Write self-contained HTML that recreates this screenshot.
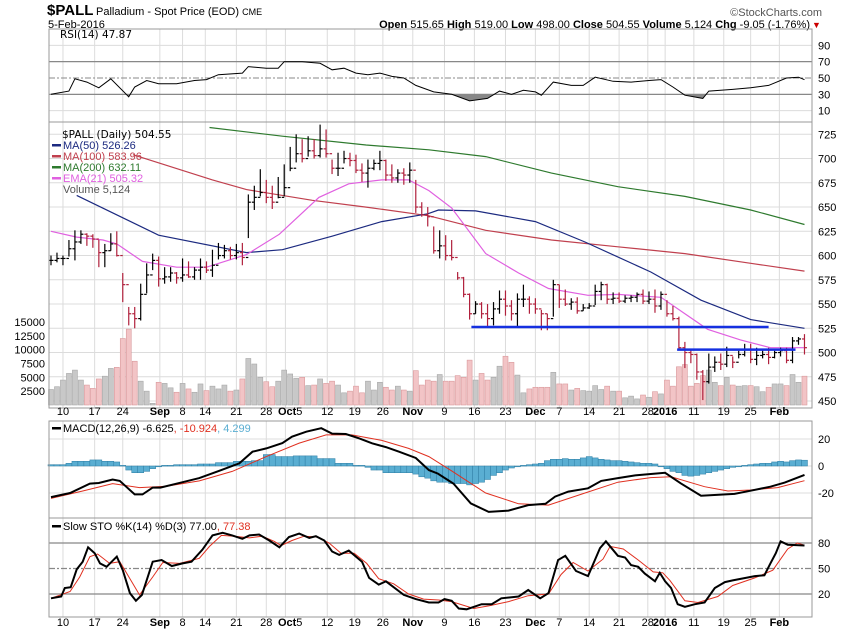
<!DOCTYPE html>
<html><head><meta charset="utf-8"><style>
body{margin:0;background:#fff;}
svg{display:block;font-family:"Liberation Sans",sans-serif;}
</style></head><body>
<svg id="chart" width="850" height="633" viewBox="0 0 850 633" xmlns="http://www.w3.org/2000/svg">
<rect x="0" y="0" width="850" height="633" fill="#fff"/>
<text x="47" y="15" style="font-size:15px;font-weight:bold">$PALL</text>
<text x="96" y="15" style="font-size:11px">Palladium - Spot Price (EOD) <tspan style="font-size:9px">CME</tspan></text>
<text x="48" y="28" style="font-size:11px">5-Feb-2016</text>
<text x="822" y="16" text-anchor="end" style="font-size:11px;fill:#555">©StockCharts.com</text>
<text x="810" y="28" text-anchor="end" style="font-size:11px"><tspan font-weight="bold">Open</tspan> 515.65 <tspan font-weight="bold">High</tspan> 519.00 <tspan font-weight="bold">Low</tspan> 498.00 <tspan font-weight="bold">Close</tspan> 504.55 <tspan font-weight="bold">Volume</tspan> 5,124 <tspan font-weight="bold">Chg</tspan> -9.05 (-1.76%)</text>
<text x="812" y="28" style="font-size:9px;fill:#c00">▼</text>
<g id="grid"></g>
<g id="marks"></g>
<g id="labels"></g>
</svg>
<script>
const closes = [595,597,597,607,614,622,620,617,603,605,612,600,570,540,535,560,580,595,576,578,582,577,580,578,585,588,585,590,600,605,600,603,598,655,660,665,660,655,660,670,690,705,700,708,703,710,705,690,690,700,698,688,685,690,695,698,683,680,685,683,688,650,
642,640,605,610,600,598,577,560,540,550,540,535,545,555,548,540,555,555,550,545,540,535,570,555,550,552,543,546,548,563,570,555,556,553,556,557,560,553,555,548,560,540,535,505,500,498,480,470,485,490,488,497,490,498,503,493,497,498,495,500,502,492,512,514,505];
const highs = [600,603,600,616,626,626,623,622,616,612,623,625,582,547,547,571,592,602,599,588,588,583,597,594,588,597,594,606,613,611,609,612,613,663,672,689,678,672,681,694,712,725,720,723,720,735,730,699,706,708,706,704,695,699,699,708,699,694,689,690,696,678,
655,650,630,626,621,616,583,578,561,553,552,550,552,564,564,554,561,570,558,556,544,540,575,570,565,556,557,550,551,570,573,571,562,562,559,559,562,565,563,565,563,554,548,537,511,504,499,482,499,496,499,506,496,502,509,509,505,502,505,502,505,505,516,516,519];
const lows = [590,593,590,599,595,612,610,608,588,588,605,599,552,528,525,533,561,585,568,571,573,571,573,577,575,575,582,578,596,597,596,596,590,618,647,661,654,648,659,661,687,696,696,702,700,701,701,684,682,695,692,685,676,670,688,688,677,675,675,673,675,644,
640,630,602,597,595,595,575,557,534,540,535,527,528,540,538,533,527,547,540,540,523,523,537,546,548,544,540,543,545,549,554,550,550,551,551,552,552,550,550,541,544,537,533,503,484,489,472,451,468,480,482,485,484,494,496,489,487,494,488,494,496,489,489,508,498];
const volumes = [2.8,3.3,4.5,5.7,6.3,4.5,3.6,3.0,4.7,5.2,6.6,6.8,12,13.7,7.9,4.3,2.5,0.3,4.1,3.9,3.1,2.3,3.9,2.9,2.3,3.8,2.6,3.4,2.9,3.6,2.5,2.7,4.7,8.4,7.4,5,4.2,3.3,4.3,6.3,5.6,4.8,5,3.5,3.6,4.7,3.9,4.3,3.6,2.2,2.5,3.4,2.2,4.3,2.7,4.1,3.2,2.7,3.4,2.7,2.5,6.2,
3.6,4.5,4.3,5.5,4.3,4.3,5.3,5.0,8.1,4.5,5.7,4.5,5.0,7.0,8.8,7.7,5.4,2.2,2.9,3.2,3.2,3.2,5.9,3.8,3.8,2.7,3.0,2.6,2.5,3.5,2.8,3.4,2.5,2.5,1.3,1.6,1.1,1.8,1.4,2.4,2.0,4.5,3.4,6.9,7.3,3.4,3.9,5.3,6.3,4.1,3.5,5.0,3.6,3.4,3.5,3.5,3.3,2.4,3.2,3.8,3.8,3.5,5.5,4.1,5.2];
const ma50 = [[4.3,662],[18,621],[32.7,603],[38.7,606],[47,620],[55.3,635],[63,643],[64.8,647],[71,646],[81,635],[89.3,614],[100.3,583],[108.7,554],[117,534],[126,525]];
const ma100 = [[13.7,704],[27,678],[32.7,668],[43.7,657],[52.7,650],[63.2,641],[72.7,626],[83.7,616],[94.8,609],[106,602],[117,592],[126,584]];
const ma200 = [[26.5,732],[38.7,723],[52.7,714],[63.2,709],[72.7,702],[83.7,685],[94.8,671],[106,661],[117,647],[126,632]];
const ema21 = [[0,625],[4.3,619],[8.7,616],[11,612],[15.3,594],[21,588],[26,588],[32.7,601],[38.2,622],[44.8,660],[49.8,674],[55.3,678],[59.8,678],[63.2,667],[67,649],[72.7,602],[78.2,582],[83.2,566],[89.8,559],[94.8,560],[102,557],[106,540],[109.8,524],[115.3,513],[120.3,505],[126,505]];
const supportLines = [[70.3,120,526.4],[104.7,124.5,503]];
const rsi = [[0,30],[3,34],[4,49],[6,45],[8,38],[10,49],[13,27],[14,39],[16,47],[18,43],[21,43],[24,47],[26,48],[28,54],[32,56],[33,64],[36,62],[38,62],[39,70],[42,70],[45,68],[47,60],[49,62],[51,56],[53,54],[55,56],[57,52],[59,50],[61,41],[64,33],[67,30],[70,22],[73,25],[75,34],[77,30],[79,35],[81,33],[82,29],[84,45],[87,41],[89,41],[91,51],[94,46],[97,45],[100,47],[102,48],[104,39],[106,29],[109,25],[110,34],[114,36],[117,38],[120,41],[123,50],[125,51],[126,47.87]];
const macd = [[0,-23],[3.2,-20],[6.5,-13],[8,-12.6],[10.3,-10],[11.5,-11],[14,-21],[15.3,-21],[17,-16],[18.3,-16],[22,-12],[24.8,-9],[28.2,-3.5],[31.5,2],[33.7,10.6],[36,13],[38.7,17],[40.3,21.7],[42.7,25.4],[45.2,28],[47,24],[49.3,23.7],[51.5,20.5],[53.7,16.8],[56,14],[58.2,10.6],[61,5.9],[63.2,-3],[64.7,-5.6],[67.3,-13],[70.2,-27.7],[73.2,-34],[76.5,-33],[79.8,-29],[82.7,-28],[84.3,-22.7],[86.5,-19],[89.8,-16.5],[92,-11],[94.8,-9],[97.7,-7],[100.3,-5.9],[102.7,-5],[105.3,-12.8],[108.7,-22],[114.3,-20.7],[117,-18.3],[120.3,-15.3],[122.7,-12.3],[126,-6.6]];
const signal = [[0,-24],[5.3,-18.5],[10.3,-13],[14.8,-16],[19.3,-15],[24.8,-11],[30.3,-4],[36,7],[41.5,17],[46,23],[50.3,23],[55.3,19],[59.8,13],[61.5,10],[63.2,7],[67,-3.6],[72.7,-20],[78.2,-28],[83.2,-29],[89.3,-20],[94.8,-12],[100.3,-8.6],[103.7,-8],[109.3,-15.3],[113.2,-18.5],[117,-17.8],[121.5,-16],[126,-10.9]];
const histogram = [1,1,1,2,3.5,3.5,3.5,4.5,4.5,3.5,3.5,3,0.5,-3,-5,-5,-4,-2,0,0.5,0.5,1,1,1,1,1.5,1.5,1.5,2.5,2.5,2.5,3.5,3.5,3.5,4,4,8.5,8.5,7,7,7,7.5,7.5,7.5,7.5,5.5,5.5,5.5,2,2,2,0.5,0.5,-1,-3,-3,-5,-5,-5,-5,-5,-6,
-8,-9,-11,-12,-12,-13,-13,-13,-14,-13,-12,-10,-7,-5,-3,-1.5,-0.5,0.5,1,1.5,2,4,5,5,5.5,5,5,6,7,6,5,4.5,4,4,3.5,3,2.5,2,2,1.5,0,-2,-4,-5,-7,-7.5,-7,-6,-5,-4,-3,-2,-1,-0.5,0.5,1,1.5,2,2,3,3.5,3,4,4.5,4.3];
const stoK = [[0,15],[1.7,17],[2.3,27],[3.3,28],[4.3,49],[5.3,58],[6.2,75],[7.3,68],[8.2,56],[9.3,52],[11,64],[12,48],[13.2,21],[14.2,12],[15.2,19],[17,58],[18.5,60],[20.2,53],[22,56],[23.5,58],[25.3,72],[27,89],[28.7,92],[30.3,89],[32,85],[33.2,89],[34.8,90],[36.5,83],[38.2,75],[39.8,87],[41.5,91],[43.2,86],[44.3,88],[45.7,83],[47,70],[48.2,66],[49.8,71],[52,58],[53.2,39],[54.8,31],[56,35],[59,19],[61,14],[63.2,10],[64.8,10],[65.8,14],[67,12],[68.2,3],[69.5,2],[72,8],[73.7,8],[75.3,15],[78.2,17],[79.8,24.7],[81.8,15],[83.2,21],[84.8,60],[86,65],[87.8,47],[89.8,41],[91.8,74],[92.8,82],[94.8,65],[96,63],[97,54],[98.2,52],[99.3,44],[101,35],[101.8,45],[102.7,35],[103.7,27],[104.8,8],[106,5],[107.7,8],[109.3,10],[111,27],[112.7,34],[114,36],[117.7,41],[119.3,42],[120.3,56],[121.2,68],[122,82],[123.2,78],[126,77]];
const stoD = [[0,15],[3.2,23],[4.8,40],[6.5,64],[7.8,67],[9.8,56],[11.5,58],[12.7,44],[14.8,19],[17,40],[18.7,57],[21.5,56],[24.8,62],[26.5,76],[28.5,89],[30.7,88],[33.2,86],[35.3,88],[37.3,82],[38.5,77],[40.3,83],[42.3,88],[44.5,87],[46.5,80],[48.5,68],[50.7,68],[52.8,56],[54.8,38],[57.3,32],[59.8,20],[62.3,14],[64.8,13],[67,11],[70.7,3],[73.2,6],[76.5,11],[79.8,18],[83.2,20],[85.3,43],[87.3,57],[89.8,47],[92.3,61],[93.5,76],[95.7,73],[98.2,60],[100.7,46],[102.3,45],[103.5,36],[106,12],[108.2,10],[111.5,17],[114,30],[117.7,39],[120.7,48],[123.2,73],[124.8,80],[126,77.38]];
const dateLabels = ["10","17","24","Sep","8","14","21","28","Oct5","12","19","26","Nov","9","16","23","Dec","7","14","21","28","2016","11","19","25","Feb"];
const dateIdx = [2,7.3,12,18.2,22,25.8,31,36,40,46.2,50.8,55.5,60.5,65.8,70.8,76,81,85,90,95,99.8,102.7,107.5,112.5,117,121.8];
const gridIdx = [2,7.3,12,18.2,22,25.8,31,36,39.2,46.2,50.8,55.5,60.5,65.8,70.8,76,81,85,90,95,99.8,102.7,107.5,112.5,117,121.8];
const priceTicks = [725,700,675,650,625,600,575,550,525,500,475,450];
const volTicks = [15000,12500,10000,7500,5000,2500];
const rsiTicks = [90,70,50,30,10];
const macdTicks = [20,0,-20];
const stoTicks = [80,50,20];

const NS = "http://www.w3.org/2000/svg";
const L = 49, R = 812;
const X = i => 51 + i * 5.98;
const yR = v => 78 - (v - 50) * 0.817;
const yP = p => 134.3 + (725 - p) * 0.97;
const yV = k => 405 - k * 5.54;
const yM = v => 466 - v * 1.35;
const yS = v => 594 - (v - 20) * 0.85;
const gGrid = document.getElementById('grid');
const gMarks = document.getElementById('marks');
const gLab = document.getElementById('labels');
function mk(tag, attrs, parent) {
  const e = document.createElementNS(NS, tag);
  for (const k in attrs) e.setAttribute(k, attrs[k]);
  parent.appendChild(e);
  return e;
}
function txt(s, x, y, parent, anchor, extra) {
  const t = mk('text', Object.assign({x: x, y: y, 'font-size': 11, 'text-anchor': anchor || 'start'}, extra || {}), parent);
  t.textContent = s;
  return t;
}
function path(pts, yf) {
  return pts.map((p, k) => (k ? 'L' : 'M') + X(p[0]).toFixed(1) + ' ' + yf(p[1]).toFixed(1)).join(' ');
}
const panels = [[29,122,'rsi-panel'],[122,408,'price-panel'],[421,518,'macd-panel'],[518,617,'sto-panel']];
panels.forEach(p => {
  gridIdx.forEach(i => {
    const ln = mk('line', {x1: X(i), x2: X(i), y1: p[0], y2: p[1], stroke: '#dcdcdc', 'stroke-width': 1}, gGrid);
    
    
  });
});
priceTicks.forEach(v => {
  const ln = mk('line', {x1: L, x2: R, y1: yP(v), y2: yP(v), stroke: '#dcdcdc'}, gGrid);
  
  
  const t = txt(String(v), 818, yP(v) + 4, gLab);
  
  
});
volTicks.forEach(v => {
  const t = txt(String(v), 45, yV(v / 1000) + 4, gLab, 'end');
  
  
});
rsiTicks.forEach(v => {
  const main = (v === 70 || v === 30);
  const ln = mk('line', {x1: L, x2: R, y1: yR(v), y2: yR(v), stroke: main ? '#888' : (v === 50 ? '#888' : '#dcdcdc'), 'stroke-width': main ? 1.2 : 1, 'stroke-dasharray': v === 50 ? '6,2,2,2' : 'none'}, gGrid);
  
  
  const t = txt(String(v), 818, yR(v) + 4, gLab);
  
  
});
macdTicks.forEach(v => {
  const ln = mk('line', {x1: L, x2: R, y1: yM(v), y2: yM(v), stroke: '#dcdcdc'}, gGrid);
  
  
  const t = txt(String(v), 818, yM(v) + 4, gLab);
  
  
});
stoTicks.forEach(v => {
  const ln = mk('line', {x1: L, x2: R, y1: yS(v), y2: yS(v), stroke: '#888', 'stroke-width': 1.2, 'stroke-dasharray': v === 50 ? '6,2,2,2' : 'none'}, gGrid);
  
  
  const t = txt(String(v), 818, yS(v) + 4, gLab);
  
  
});
[415, 626].forEach(yy => {
  dateLabels.forEach((s, k) => {
    const bold = /[A-Za-z]/.test(s) || s === '2016';
    const t = txt('', X(dateIdx[k]), yy, gLab, 'middle', {'font-weight': bold ? 'bold' : 'normal'});
    if (s === 'Oct5') {
      const a = mk('tspan', {'font-weight': 'bold'}, t); a.textContent = 'Oct';
      const b = mk('tspan', {'font-weight': 'normal'}, t); b.textContent = '5';
    } else t.textContent = s;
    
    
  });
});
volumes.forEach((v, i) => {
  const down = i > 0 && closes[i] < closes[i - 1];
  const r = mk('rect', {x: X(i) - 2.5, y: yV(v), width: 5, height: 405 - yV(v), fill: down ? '#f2c4c6' : '#c8c8c8', stroke: down ? '#d9999c' : '#a8a8a8', 'stroke-width': 0.6}, gMarks);
  
  
});
[[ma200, '#2e7a2e', 'ma200-line'], [ma100, '#c0404e', 'ma100-line'], [ma50, '#1c2a80', 'ma50-line'], [ema21, '#e060e0', 'ema21-line']].forEach(m => {
  const p = mk('path', {d: path(m[0], yP), fill: 'none', stroke: m[1], 'stroke-width': 1.2}, gMarks);
  
  
});
closes.forEach((c, i) => {
  const down = i > 0 && c < closes[i - 1];
  const col = down ? '#b0203c' : '#000';
  const o = i > 0 ? closes[i - 1] : c;
  const g = mk('g', {stroke: col, 'stroke-width': 1.2}, gMarks);
  
  
  const x = X(i);
  mk('line', {x1: x, x2: x, y1: yP(highs[i]), y2: yP(lows[i])}, g);
  mk('line', {x1: x - 2.5, x2: x, y1: yP(o), y2: yP(o)}, g);
  mk('line', {x1: x, x2: x + 2.5, y1: yP(c), y2: yP(c)}, g);
});
supportLines.forEach(s => {
  const ln = mk('line', {x1: X(s[0]), x2: X(s[1]), y1: yP(s[2]), y2: yP(s[2]), stroke: '#1530e0', 'stroke-width': 2.5}, gMarks);
  
  
});
const clip = mk('clipPath', {id: 'rsiLow'}, gMarks);
mk('rect', {x: L, y: yR(30), width: R - L, height: 122 - yR(30)}, clip);
const rf = mk('path', {d: path(rsi, yR) + ' L' + X(126) + ' ' + yR(30) + ' L' + X(0) + ' ' + yR(30) + ' Z', fill: '#888', 'clip-path': 'url(#rsiLow)'}, gMarks);


const rl = mk('path', {d: path(rsi, yR), fill: 'none', stroke: '#000', 'stroke-width': 1}, gMarks);


histogram.forEach((v, i) => {
  const y0 = yM(0), y1 = yM(v);
  const r = mk('rect', {x: X(i) - 3, y: Math.min(y0, y1), width: 6, height: Math.max(0.8, Math.abs(y1 - y0)), fill: '#5aaed2', stroke: '#2f7ea4', 'stroke-width': 0.5}, gMarks);
  
  
});
const sg = mk('path', {d: path(signal, yM), fill: 'none', stroke: '#e03020', 'stroke-width': 1}, gMarks);


const mc = mk('path', {d: path(macd, yM), fill: 'none', stroke: '#000', 'stroke-width': 2}, gMarks);


const sd = mk('path', {d: path(stoD, yS), fill: 'none', stroke: '#e03020', 'stroke-width': 1}, gMarks);


const sk = mk('path', {d: path(stoK, yS), fill: 'none', stroke: '#000', 'stroke-width': 2}, gMarks);


panels.forEach(p => {
  const r = mk('rect', {x: L, y: p[0], width: R - L, height: p[1] - p[0], fill: 'none', stroke: '#999', 'stroke-width': 1}, gMarks);
  
  
});
function legendLine(y, color, s, name) {
  const ln = mk('rect', {x: 52, y: y - 5, width: 9, height: 2.5, fill: color}, gLab);
  
  
  const t = txt(s, 63, y, gLab, 'start', {fill: color});
  
  
}
const rt = txt('RSI(14) 47.87', 60, 38, gLab, 'start', {'font-family': 'DejaVu Sans, sans-serif', 'font-size': 10.5});


const pt = txt('$PALL (Daily) 504.55', 62, 138, gLab, 'start', {'font-family': 'DejaVu Sans, sans-serif', 'font-size': 10.5});


legendLine(149, '#1c2a80', 'MA(50) 526.26', 'ma50-legend');
legendLine(160, '#c0404e', 'MA(100) 583.96', 'ma100-legend');
legendLine(171, '#2e7a2e', 'MA(200) 632.11', 'ma200-legend');
legendLine(182, '#e060e0', 'EMA(21) 505.32', 'ema21-legend');
const vt = txt('Volume 5,124', 63, 193, gLab, 'start', {fill: '#555'});


const mt = txt('', 63, 432, gLab);


[['MACD(12,26,9) -6.625', '#000'], [', -10.924', '#e03020'], [', 4.299', '#5aaed2']].forEach(a => { const s = mk('tspan', {fill: a[1]}, mt); s.textContent = a[0]; });
mk('rect', {x: 52, y: 427, width: 9, height: 2.5, fill: '#000'}, gLab);
const st = txt('', 63, 530, gLab);


[['Slow STO %K(14) %D(3) 77.00', '#000'], [', 77.38', '#e03020']].forEach(a => { const s = mk('tspan', {fill: a[1]}, st); s.textContent = a[0]; });
mk('rect', {x: 52, y: 525, width: 9, height: 2.5, fill: '#000'}, gLab);
</script>
</body></html>
